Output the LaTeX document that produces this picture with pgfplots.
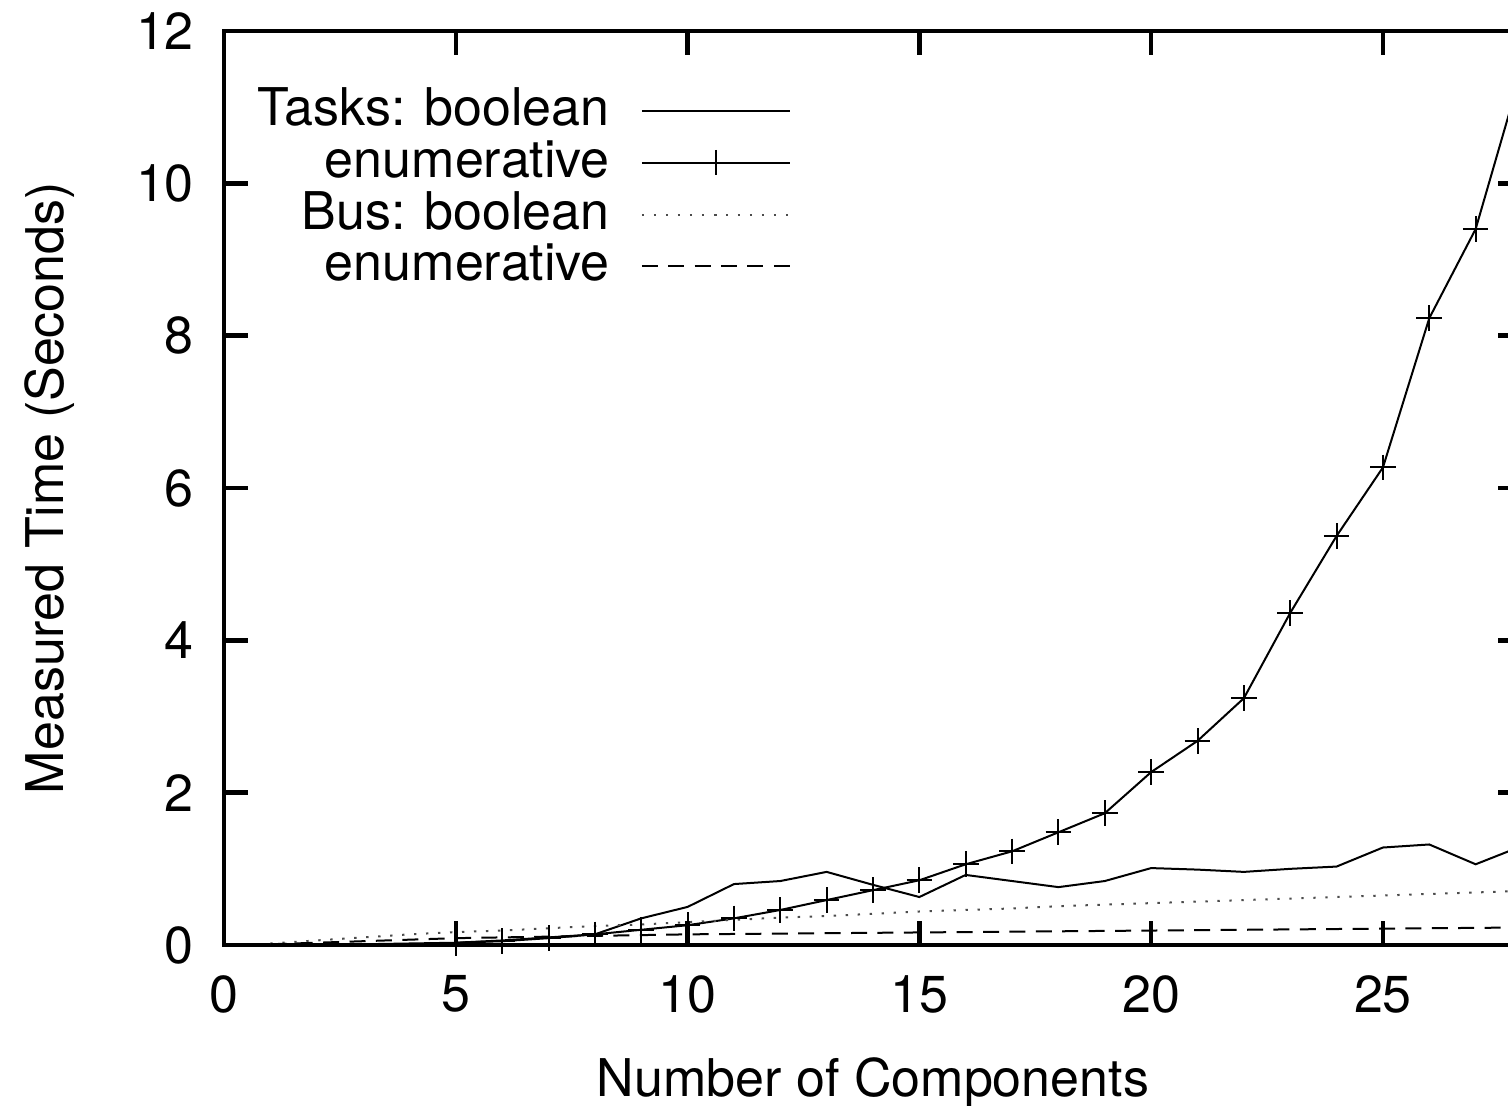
\documentclass[border=0pt]{standalone}
\usepackage{fontspec}
\setmainfont{TeX Gyre Heros}
\usepackage{pgfplots}
\pgfplotsset{compat=1.18}
\begin{document}
\fontsize{13}{15.6}\selectfont
\begin{tikzpicture}
\begin{axis}[
  scale only axis,
  width=324.5pt, height=228.5pt,
  xmin=0, xmax=28, ymin=0, ymax=12,
  xtick={0,5,10,15,20,25}, ytick={0,2,4,6,8,10,12},
  tick align=inside,
  major tick length=6pt,
  every tick/.style={line width=1.1pt, black},
  axis line style={line width=1.1pt},
  /pgf/number format/assume math mode=true,
  ticklabel style={font=\fontsize{13}{15.6}\selectfont},
  xticklabel style={yshift=-3pt},
  yticklabel style={xshift=-3pt},
  xlabel={Number of Components},
  ylabel={Measured Time (Seconds)},
  label style={font=\fontsize{13}{15.6}\selectfont},
  xlabel style={yshift=-2.25pt},
  ylabel style={yshift=6.5pt},
  legend style={draw=none, fill=none, at={(0.0,1)}, anchor=north west, xshift=3.25pt, yshift=-10pt,
    font=\fontsize{13}{15.6}\selectfont, row sep=-2.3pt, column sep=5.75pt},
  legend cell align=right,
  legend plot pos=right,
  legend image code/.code={\draw[mark repeat=2,mark phase=2,#1] plot coordinates {(0pt,0pt) (18.5pt,0pt) (37pt,0pt)};},
]
\addplot[black, line width=0.5pt] coordinates {
(1,0.0) (2,0.005) (3,0.01) (4,0.02) (5,0.03) (6,0.06) (7,0.1) (8,0.14) (9,0.35) (10,0.5)
(11,0.8) (12,0.84) (13,0.96) (14,0.79) (15,0.63) (16,0.92) (17,0.84) (18,0.76) (19,0.84)
(20,1.01) (21,0.99) (22,0.96) (23,1.0) (24,1.03) (25,1.28) (26,1.32) (27,1.06) (28,1.3)};
\addlegendentry{Tasks: boolean}
\addplot[black, line width=0.5pt, mark=+, mark size=3.2pt, mark options={line width=0.5pt}] coordinates {
(5,0.03) (6,0.05) (7,0.09) (8,0.14) (9,0.2) (10,0.26) (11,0.35) (12,0.46) (13,0.59) (14,0.72)
(15,0.85) (16,1.06) (17,1.23) (18,1.48) (19,1.73) (20,2.27) (21,2.68) (22,3.24) (23,4.36)
(24,5.37) (25,6.27) (26,8.23) (27,9.4) (28,11.5)};
\addlegendentry{enumerative}
\addplot[black!70, line width=0.5pt, dash pattern=on 0.6pt off 2.4pt] coordinates {
(1,0.02) (2,0.06) (3,0.1) (4,0.14) (5,0.17) (6,0.19) (7,0.22) (8,0.25) (9,0.27) (10,0.3)
(11,0.33) (12,0.36) (13,0.38) (14,0.41) (15,0.44) (16,0.46) (17,0.48) (18,0.51) (19,0.53)
(20,0.55) (21,0.57) (22,0.59) (23,0.61) (24,0.63) (25,0.65) (26,0.67) (27,0.69) (28,0.71)};
\addlegendentry{Bus: boolean}
\addplot[black, line width=0.5pt, dash pattern=on 4pt off 2.6pt] coordinates {
(1,0.01) (2,0.03) (3,0.05) (4,0.07) (5,0.09) (6,0.1) (7,0.11) (8,0.12) (9,0.13) (10,0.14)
(11,0.145) (12,0.15) (13,0.155) (14,0.16) (15,0.165) (16,0.17) (17,0.175) (18,0.18) (19,0.185)
(20,0.19) (21,0.195) (22,0.2) (23,0.205) (24,0.21) (25,0.215) (26,0.22) (27,0.225) (28,0.23)};
\addlegendentry{enumerative}
\end{axis}
\pgfresetboundingbox
\path[use as bounding box] (-56pt,-40pt) rectangle (321pt,236.25pt);
\end{tikzpicture}
\end{document}
